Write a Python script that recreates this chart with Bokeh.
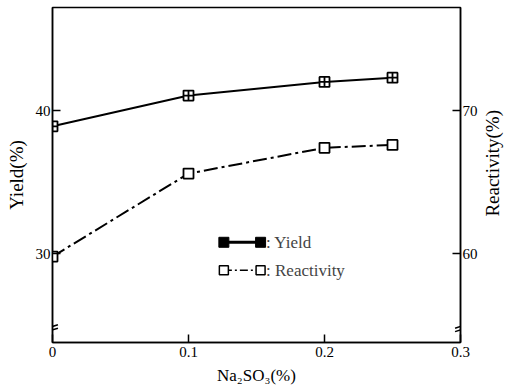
import math
from bokeh.plotting import figure
from bokeh.layouts import row
from bokeh.models import Range1d, LinearAxis, FixedTicker, Label
from bokeh.core.properties import value
from bokeh.embed import file_html
from bokeh.resources import INLINE

# data
na2so3 = [0.0, 0.1, 0.2, 0.25]
yield_pct = [38.9, 41.05, 42.0, 42.3]
reactivity_pct = [59.8, 65.6, 67.4, 67.6]
x_ticks = [0, 0.1, 0.2, 0.3]
x_tick_labels = {0: "0", 0.1: "0.1", 0.2: "0.2", 0.3: "0.3"}
yield_ticks = [30, 40]
react_ticks = [60, 70]

FONT = "Liberation Serif"
Y_LO, Y_HI = 23.8, 47.2
OFF = 30.0


def style_axis(ax):
    ax.major_tick_in = 8
    ax.major_tick_out = 0
    ax.minor_tick_line_color = None
    ax.axis_line_width = 1.5
    ax.axis_line_color = "black"
    ax.major_tick_line_width = 1.5
    ax.major_tick_line_color = "black"
    ax.major_label_text_font = FONT
    ax.major_label_text_font_size = "15px"
    ax.major_label_text_color = "black"
    ax.axis_label_text_font = FONT
    ax.axis_label_text_font_size = "19px"
    ax.axis_label_text_font_style = "normal"
    ax.axis_label_text_color = "black"


p = figure(width=480, height=387, output_backend="svg", toolbar_location=None,
           x_range=Range1d(0, 0.3), y_range=Range1d(Y_LO, Y_HI),
           min_border_left=52, min_border_right=20, min_border_top=7, min_border_bottom=45)
p.frame_width = 408
p.frame_height = 335
p.background_fill_color = "white"
p.border_fill_color = "white"
p.outline_line_color = "black"
p.outline_line_width = 1.5
p.grid.visible = False
p.extra_y_ranges = {"r": Range1d(Y_LO + OFF, Y_HI + OFF)}

for ax in p.xaxis + p.yaxis:
    style_axis(ax)

p.xaxis.ticker = FixedTicker(ticks=x_ticks)
p.xaxis.major_label_overrides = x_tick_labels
p.xaxis.axis_label = "Na₂SO₃(%)"
p.xaxis.axis_label_text_font_size = "17px"
p.xaxis.axis_label_standoff = 6
p.xaxis.major_label_standoff = 4

p.yaxis.ticker = FixedTicker(ticks=yield_ticks)
p.yaxis.axis_label = "Yield(%)"
p.yaxis.axis_label_standoff = 6
p.yaxis.major_label_standoff = 2

ra = LinearAxis(y_range_name="r", ticker=FixedTicker(ticks=react_ticks))
style_axis(ra)
ra.major_label_standoff = 2
p.add_layout(ra, "right")

# series
p.line(na2so3, yield_pct, line_color="black", line_width=2)
p.scatter(na2so3, yield_pct, marker="square_cross", size=10, fill_color="white",
          line_color="black", line_width=1.8)

p.line(na2so3, reactivity_pct, y_range_name="r", line_color="black", line_width=2,
       line_dash="14 4 3 4")
p.scatter(na2so3, reactivity_pct, y_range_name="r", marker="square", size=10,
          fill_color="white", line_color="black", line_width=1.8)

# axis break marks
bk_y = 24.8
for bx in (0.0, 0.3):
    for dy in (-0.12, 0.12):
        p.segment(x0=[bx - 0.004], y0=[bk_y + dy - 0.12], x1=[bx + 0.004], y1=[bk_y + dy + 0.12],
                  line_color="black", line_width=1.5)

# manual legend
leg_x0, leg_x1 = 0.126, 0.153
leg_y1, leg_y2 = 30.8, 28.85
p.line([leg_x0, leg_x1], [leg_y1, leg_y1], line_color="black", line_width=3)
p.scatter([leg_x0, leg_x1], [leg_y1, leg_y1], marker="square", size=10,
          fill_color="black", line_color="black")
p.line([leg_x0, leg_x1], [leg_y2, leg_y2], line_color="black", line_width=1.5,
       line_dash="8 3 2 3")
p.scatter([leg_x0, leg_x1], [leg_y2, leg_y2], marker="square", size=9,
          fill_color="white", line_color="black", line_width=1.5)
p.add_layout(Label(x=0.157, y=leg_y1, text=": Yield", text_font=FONT,
                   text_font_size="17px", text_baseline="middle"))
p.add_layout(Label(x=0.157, y=leg_y2, text=": Reactivity", text_font=FONT,
                   text_font_size="17px", text_baseline="middle"))

# right-hand axis title (reads bottom-to-top, as in the original) in a narrow strip
p2 = figure(width=25, height=387, output_backend="svg", toolbar_location=None,
            x_range=Range1d(0, 25), y_range=Range1d(0, 387), min_border=0)
p2.axis.visible = False
p2.grid.visible = False
p2.outline_line_color = None
p2.text(x=[12], y=[207], text=["Reactivity(%)"], angle=math.pi / 2,
        text_align="center", text_baseline="middle", text_font=value(FONT),
        text_font_size="19px", text_color="black")

layout = row(p, p2, spacing=0)
open("out.html", "w").write(file_html(layout, INLINE))
